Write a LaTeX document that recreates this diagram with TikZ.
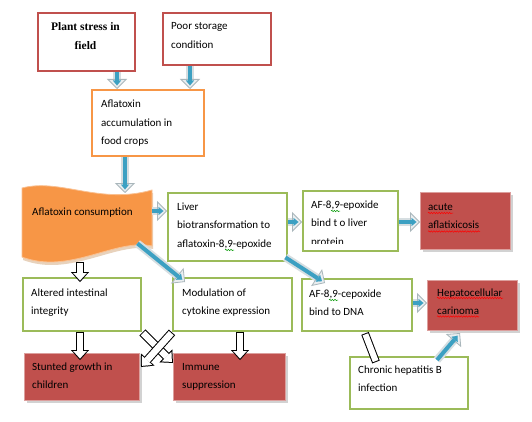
\documentclass[tikz,border=0pt]{standalone}
\usepackage{fontspec}
\setmainfont{Carlito}
\newfontfamily\serifbox{Liberation Serif}
\usetikzlibrary{arrows.meta,shadows,decorations.pathmorphing}
\definecolor{ored}{HTML}{C0504D}
\definecolor{ogreen}{HTML}{9BBB59}
\definecolor{oorange}{HTML}{F79646}
\definecolor{oblue}{HTML}{3CA0C2}
\definecolor{agray}{HTML}{D6DEE1}
\definecolor{hgray}{HTML}{A9B6BB}
\definecolor{otan}{HTML}{E8D2BC}
\newcommand\mytext[1]{\parbox[t]{140pt}{\raggedright #1}}
\newcommand\barrow[2]{\draw[bout] #1 -- #2; \draw[binn] #1 -- #2;}
\newcommand\warrow[2]{\draw[wout] #1 -- #2; \draw[winn] #1 -- #2;}
\begin{document}
\begin{tikzpicture}[x=1pt,y=1pt,
  box/.style={rectangle, inner sep=0, anchor=north west, line width=2.4pt, fill=white},
  rbox/.style={box, draw=ored},
  gbox/.style={box, draw=ogreen},
  obox/.style={box, draw=oorange},
  fbox/.style={rectangle, inner sep=0, anchor=north west, fill=ored, draw=ored!55!white, line width=1pt,
     drop shadow={shadow xshift=2.5pt, shadow yshift=-2.5pt, opacity=0.35, fill=gray}},
  txt/.style={anchor=base west, inner sep=0, font=\fontsize{11}{18.5}\selectfont},
  bout/.style={line width=8pt, draw=agray, -{Triangle[length=10pt,width=20pt,line width=0.8pt,fill=agray!50!white,color=hgray]}},
  binn/.style={line width=4pt, draw=oblue, shorten >=3.5pt, -{Triangle[length=5pt,width=8pt,line width=0.1pt]}},
  wout/.style={line width=8.5pt, draw=black, -{Triangle[length=10pt,width=18pt,line width=0.1pt]}},
  winn/.style={line width=6.5pt, draw=white, shorten <=1pt, shorten >=1.5pt, -{Triangle[length=7.5pt,width=13.5pt,line width=0.1pt]}},
  sqr/.style={red, line width=0.5pt, decorate, decoration={snake, amplitude=0.7pt, segment length=2.6pt}},
  sqg/.style={sqr, draw=green!60!black}
]
\path[use as bounding box, fill=white] (0,0) rectangle (532,-422);

% boxes
\node[rbox, minimum width=97pt, minimum height=58pt] (plant) at (37,-12) {};
\node[rbox, minimum width=108pt, minimum height=52pt] (poor) at (162,-12) {};
\node[obox, minimum width=112pt, minimum height=66pt] (accum) at (91,-89) {};

% consumption wave shape
\fill[otan] (23,-191) .. controls (61,-181) and (101,-208) .. (153,-193) -- (153,-249) .. controls (116,-241) and (71,-278) .. (23,-260) -- cycle;
\fill[oorange, draw=oorange!60!white, line width=0.8pt] (22,-188) .. controls (60,-178) and (100,-205) .. (152,-190) -- (152,-246) .. controls (115,-238) and (70,-275) .. (22,-257) -- cycle;
\node[rectangle, inner sep=0, minimum width=130pt, minimum height=65pt, anchor=north west] (cons) at (22,-190) {};

\node[gbox, minimum width=119pt, minimum height=68pt] (liver) at (167,-192) {};
\node[gbox, minimum width=95pt, minimum height=60pt] (afliver) at (302,-190) {};
\node[fbox, minimum width=90pt, minimum height=57pt] (acute) at (420,-192) {};
\node[gbox, minimum width=118pt, minimum height=53pt] (altered) at (22,-277) {};
\node[gbox, minimum width=119pt, minimum height=53pt] (modul) at (172,-277) {};
\node[gbox, minimum width=110pt, minimum height=52pt] (dna) at (301,-278) {};
\node[fbox, minimum width=90pt, minimum height=50pt] (hepato) at (427,-280) {};
\node[gbox, minimum width=118pt, minimum height=52pt] (chronic) at (349,-356) {};
\node[fbox, minimum width=115pt, minimum height=47pt] (stunted) at (24,-353) {};
\node[fbox, minimum width=112pt, minimum height=47pt] (immune) at (173,-353) {};

% texts
\node[anchor=base, inner sep=0, font=\serifbox\bfseries\fontsize{11.5}{18.5}\selectfont]
  at ([shift={(48.5,-18.6)}]plant.north west) {\parbox[t]{97pt}{\centering Plant stress in\\field}};
\node[txt] at ([shift={(9,-18)}]poor.north west) {\mytext{Poor storage\\condition}};
\node[txt] at ([shift={(10,-19)}]accum.north west) {\mytext{Aflatoxin\\accumulation in\\food crops}};
\node[txt] at ([shift={(10,-25)}]cons.north west) {\mytext{Aflatoxin consumption}};
\node[txt] at ([shift={(10,-18)}]liver.north west) {\mytext{Liver\\biotransformation to\\aflatoxin-8,9-epoxide}};
\begin{scope}
  \clip (afliver.north west) rectangle ([yshift=-53pt]afliver.north east);
  \node[txt] at ([shift={(9,-18)}]afliver.north west) {\mytext{AF-8,9-epoxide\\bind t o liver\\protein}};
\end{scope}
\node[txt] at ([shift={(8,-18)}]acute.north west) {\mytext{acute\\aflatixicosis}};
\node[txt] at ([shift={(9,-19)}]altered.north west) {\mytext{Altered intestinal\\integrity}};
\node[txt] at ([shift={(10,-19)}]modul.north west) {\mytext{Modulation of\\cytokine expression}};
\node[txt] at ([shift={(8,-19)}]dna.north west) {\mytext{AF-8,9-cepoxide\\bind to DNA}};
\node[txt] at ([shift={(10,-16)}]hepato.north west) {\mytext{Hepatocellular\\carinoma}};
\node[txt] at ([shift={(9,-17)}]chronic.north west) {\mytext{Chronic hepatitis B\\infection}};
\node[txt] at ([shift={(8,-17)}]stunted.north west) {\mytext{Stunted growth in\\children}};
\node[txt] at ([shift={(9,-17)}]immune.north west) {\mytext{Immune\\suppression}};

% spell-check squiggles
\draw[sqr] (428,-213) -- (453,-213);
\draw[sqr] (428,-231.5) -- (480,-231.5);
\draw[sqr] (437,-298) -- (503,-298);
\draw[sqr] (437,-316.5) -- (479,-316.5);
\draw[sqg] (331,-211) -- (340,-211);
\draw[sqg] (225,-250) -- (234,-250);
\draw[sqg] (329,-300) -- (338,-300);

% blue arrows
\barrow{([xshift=80pt]plant.south west)}{([xshift=26pt]accum.north west)}
\barrow{([xshift=28pt]poor.south west)}{([xshift=99pt]accum.north west)}
\barrow{([xshift=34pt]accum.south west)}{([shift={(103,-3)}]cons.north west)}
\barrow{([yshift=-21pt]cons.north east)}{([yshift=-19pt]liver.north west)}
\barrow{([shift={(-15,12)}]cons.south east)}{([shift={(13,-5)}]modul.north west)}
\barrow{([shift={(-3,5)}]liver.south east)}{([shift={(24,-5)}]dna.north west)}
\barrow{([yshift=-30pt]liver.north east)}{([yshift=-32pt]afliver.north west)}
\barrow{([yshift=-32pt]afliver.north east)}{([yshift=-30pt]acute.north west)}
\barrow{([yshift=-25pt]dna.north east)}{([yshift=-23pt]hepato.north west)}
\barrow{([shift={(88,-4)}]chronic.north west)}{([shift={(33,-2)}]hepato.south west)}

% white arrows
\warrow{([shift={(58,-7)}]cons.south west)}{([shift={(58,-5)}]altered.north west)}
\warrow{([xshift=58pt]altered.south west)}{([shift={(56,-7)}]stunted.north west)}
\warrow{([xshift=68pt]modul.south west)}{([shift={(67,-7)}]immune.north west)}
\warrow{(altered.south east)}{([yshift=-10pt]immune.north west)}
\warrow{(modul.south west)}{([shift={(1,-14)}]stunted.north east)}
\draw[line width=8pt, black] ([shift={(64,-1)}]dna.south west) -- ([shift={(27,-6)}]chronic.north west);
\draw[line width=6pt, white, shorten <=1pt, shorten >=1pt] ([shift={(64,-1)}]dna.south west) -- ([shift={(27,-6)}]chronic.north west);
\end{tikzpicture}
\end{document}
